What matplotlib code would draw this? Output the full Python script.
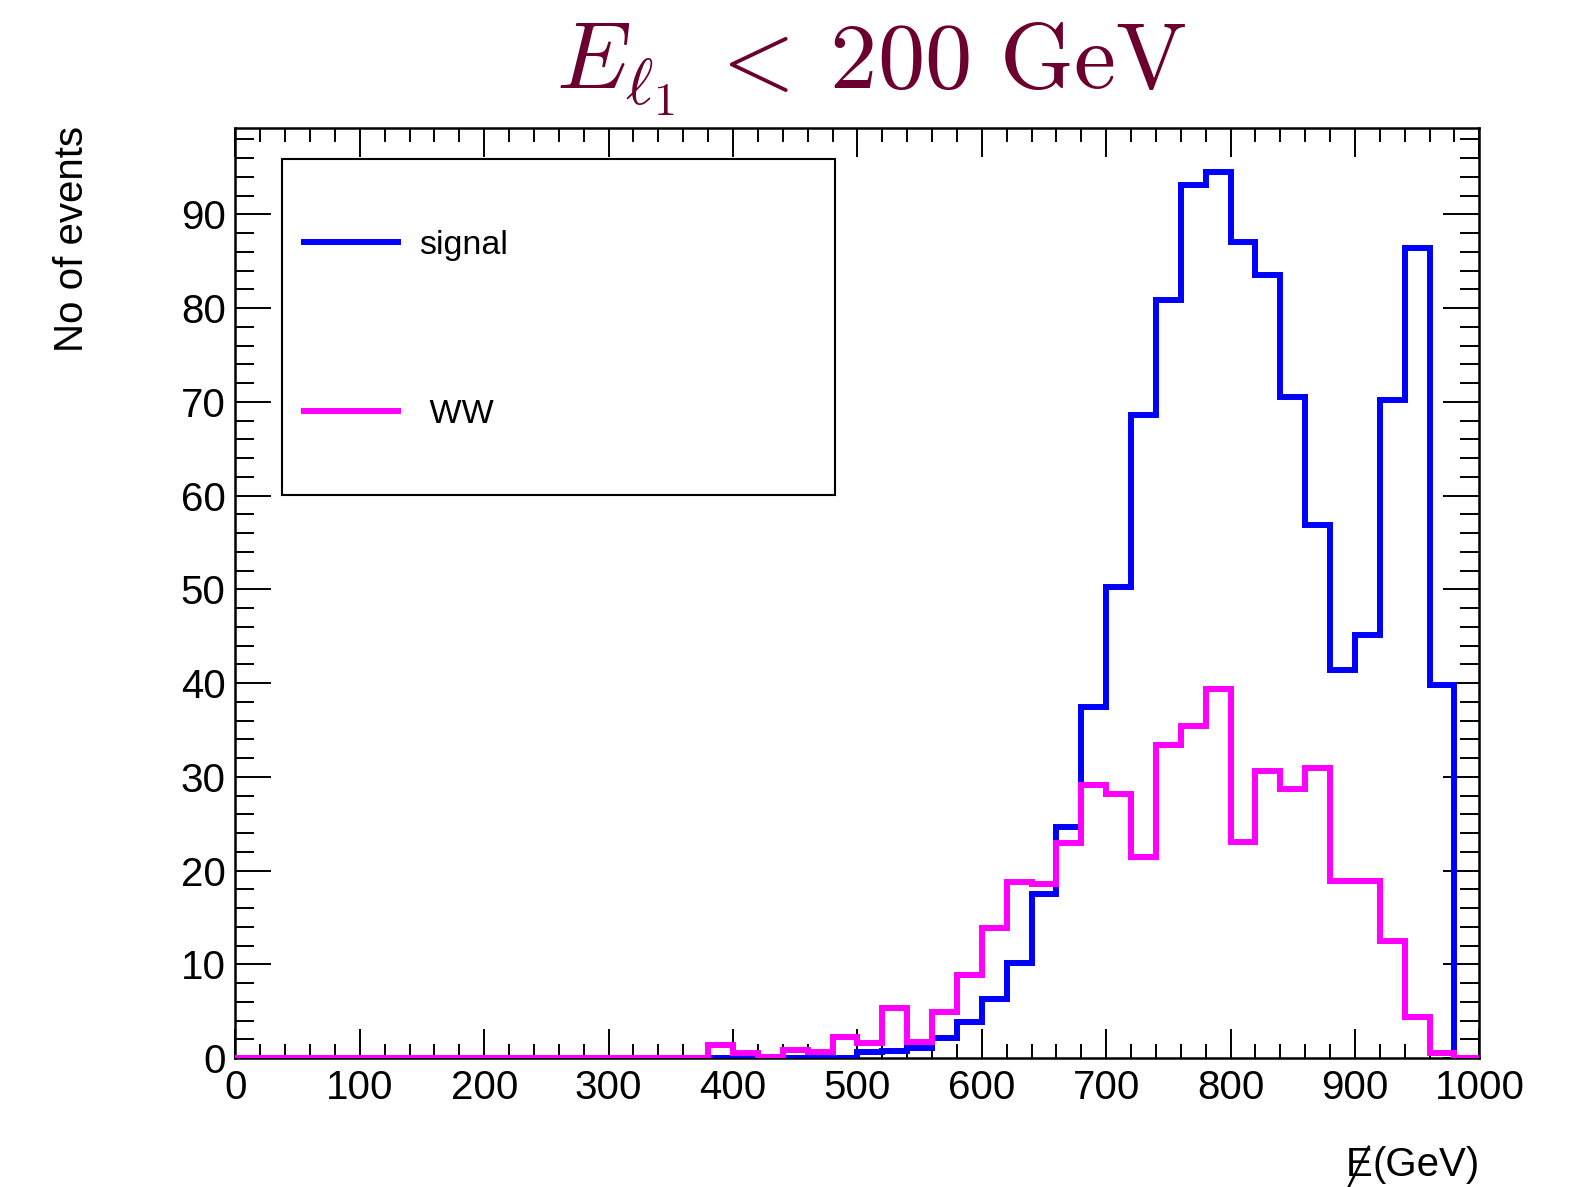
import numpy as np
import matplotlib
matplotlib.use("Agg")
import matplotlib.pyplot as plt
from matplotlib.ticker import MultipleLocator
from matplotlib.patches import Rectangle
from matplotlib.lines import Line2D

plt.rcParams['font.family'] = ['Liberation Sans', 'DejaVu Sans']
plt.rcParams['mathtext.fontset'] = 'cm'

# missing energy histograms, 20 GeV bins from 0 to 1000
edges = np.arange(0, 1001, 20)

signal = np.array([
	0, 0, 0, 0, 0, 0, 0, 0, 0, 0,              # 0-200
	0, 0, 0, 0, 0, 0, 0, 0, 0, 0,              # 200-400
	0, 0, 0, 0, 0, 0.6, 0.75, 1.1, 2.1, 3.9,   # 400-600
	6.3, 10.1, 17.5, 24.7, 37.4, 50.2, 68.6, 80.9, 93.1, 94.5,   # 600-800
	87.0, 83.5, 70.5, 56.9, 41.4, 45.1, 70.2, 86.4, 39.8, 0,     # 800-1000
])

ww = np.array([
	0, 0, 0, 0, 0, 0, 0, 0, 0, 0,
	0, 0, 0, 0, 0, 0, 0, 0, 0, 1.4,
	0.5, 0.1, 0.9, 0.6, 2.3, 1.6, 5.3, 1.7, 4.9, 8.9,
	13.9, 18.8, 18.6, 22.9, 29.1, 28.2, 21.4, 33.4, 35.4, 39.4,
	23.1, 30.6, 28.7, 30.9, 18.9, 18.9, 12.5, 4.4, 0.5, 0,
])

labels = ['signal', ' WW']
colors = ['#0000ff', '#ff00ff']

fig = plt.figure(figsize=(15.78, 11.87), dpi=100)
ax = fig.add_axes([0.1492, 0.1086, 0.7883, 0.7837])

lw = 4.3
ax.stairs(signal, edges, color=colors[0], linewidth=lw, baseline=None, zorder=3)
ax.stairs(ww, edges, color=colors[1], linewidth=lw, baseline=None, zorder=4)

ax.set_xlim(0, 1000)
ax.set_ylim(0, 1.05 * max(signal.max(), ww.max()))

ax.xaxis.set_major_locator(MultipleLocator(100))
ax.xaxis.set_minor_locator(MultipleLocator(20))
ax.yaxis.set_major_locator(MultipleLocator(10))
ax.yaxis.set_minor_locator(MultipleLocator(2))

ax.tick_params(axis='both', which='both', direction='in', top=True, right=True,
	width=1.4, labelsize=29)
ax.tick_params(axis='x', which='major', length=21, pad=8)
ax.tick_params(axis='x', which='minor', length=10)
ax.tick_params(axis='y', which='major', length=26, pad=7)
ax.tick_params(axis='y', which='minor', length=13.5)
for s in ax.spines.values():
	s.set_linewidth(1.8)
	s.set_zorder(2)

# legend box drawn by hand, ROOT style
ax.add_patch(Rectangle((0.0372, 0.605), 0.4450, 0.3615, transform=ax.transAxes,
	fill=False, edgecolor='black', linewidth=1.5, zorder=5))
for lab, col, yy in zip(labels, colors, [0.8777, 0.6959]):
	ax.add_line(Line2D([0.055, 0.131], [yy, yy], transform=ax.transAxes,
		color=col, linewidth=lw, zorder=6))
	ax.text(0.148, yy - 0.004, lab, transform=ax.transAxes, fontsize=24.5,
		ha='left', va='center', zorder=6)

fig.text(0.5517, 0.9254, r'$E_{\ell_1}\:<\:200\ \mathrm{GeV}$', fontsize=68,
	color='#6b0030', ha='center', va='baseline')

fig.text(0.0459, 0.894, 'No of events', rotation=90, fontsize=29,
	ha='center', va='top')

# x axis title: slashed E followed by the unit
unit = fig.text(0.9375, 0.0187, '(GeV)', fontsize=29, ha='right', va='center')
fig.canvas.draw()
bb = unit.get_window_extent()
W, H = fig.bbox.width, fig.bbox.height
etxt = fig.text(bb.x0 / W, 0.0187, 'E', fontsize=29, ha='right', va='center')
fig.canvas.draw()
eb = etxt.get_window_extent()
xc = (eb.x0 + eb.x1) / 2
yc = (eb.y0 + eb.y1) / 2
fig.add_artist(Line2D([(xc - 10) / W, (xc + 10) / W], [(yc - 22) / H, (yc + 18) / H],
	transform=fig.transFigure, color='black', linewidth=1.8))

fig.savefig('out.png', dpi=100)
